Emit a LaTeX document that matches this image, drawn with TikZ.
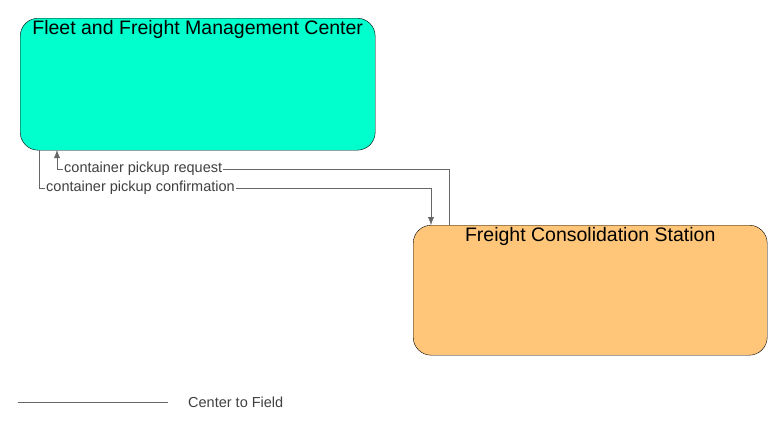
\documentclass[tikz,border=0pt]{standalone}
\usepackage{fontspec}
\setmainfont{Liberation Sans}
\usetikzlibrary{positioning,calc,arrows.meta}
\begin{document}
\begin{tikzpicture}[x=1pt,y=-1pt,
  every node/.style={inner sep=0pt},
  center/.style={draw=black,rounded corners=18pt,anchor=north west},
  flow/.style={draw=black!60,-{Latex[length=8pt,width=6pt]}},
  flowlabel/.style={font=\fontsize{14.5}{16}\selectfont,text=black!75,anchor=west,fill=white,inner xsep=1pt}]
\useasboundingbox (0,0) rectangle (783,431);
\node (fleet) [center,fill={rgb,255:red,0;green,255;blue,204},minimum width=355pt,minimum height=132pt] at (20,18) {};
\node [font=\fontsize{19.5}{22}\selectfont,anchor=north] at ($(fleet.north)+(0,2)$) {Fleet and Freight Management Center};
\node (station) [center,fill={rgb,255:red,255;green,198;blue,122},minimum width=354pt,minimum height=130pt] at (413,225) {};
\node [font=\fontsize{19.5}{22}\selectfont,anchor=north] at ($(station.north)+(0,2)$) {Freight Consolidation Station};

\coordinate (rq) at (449,225);
\coordinate (rf) at (57,150);
\coordinate (cf) at (39,150);
\coordinate (cs) at (431,225);
\draw[flow] (rq) -- (449,169) -- (57,169) -- (rf);
\node[flowlabel] at (63,169) {container pickup request};
\draw[flow] (cf) -- (39,188) -- (431,188) -- (cs);
\node[flowlabel] at (45,188) {container pickup confirmation};

\coordinate (la) at (18,402);
\coordinate (lb) at (168,402);
\draw[black!60] (la) -- (lb);
\node[font=\fontsize{14.5}{16}\selectfont,text=black!75,anchor=west] at (188,402) {Center to Field};
\end{tikzpicture}
\end{document}
